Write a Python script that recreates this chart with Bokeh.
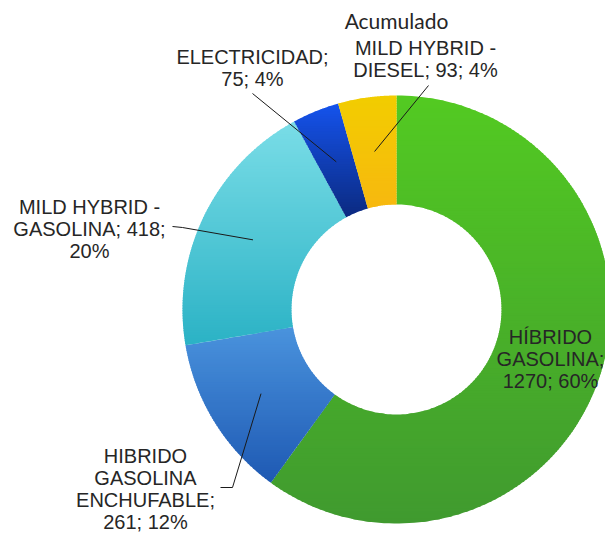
import numpy as np
from bokeh.plotting import figure
from bokeh.models import Range1d
from bokeh.core.properties import value
from bokeh.embed import file_html
from bokeh.resources import INLINE

# ---- data ----
categories = ["HÍBRIDO GASOLINA", "HIBRIDO GASOLINA ENCHUFABLE", "MILD HYBRID - GASOLINA",
              "ELECTRICIDAD", "MILD HYBRID - DIESEL"]
values = [1270, 261, 418, 75, 93]
label_texts = ["HÍBRIDO\nGASOLINA;\n1270; 60%",
               "HIBRIDO\nGASOLINA\nENCHUFABLE;\n261; 12%",
               "MILD HYBRID -\nGASOLINA; 418;\n20%",
               "ELECTRICIDAD;\n75; 4%",
               "MILD HYBRID -\nDIESEL; 93; 4%"]
title_text = "Acumulado"

# ---- style / layout ----
top_colors = ["#53ca22", "#4a93dd", "#7adde7", "#1553ec", "#f2cd00"]
bot_colors = ["#409a2f", "#1e59b3", "#2bb2c5", "#0b2a80", "#f7b80f"]
label_pos = [(550, 358), (145, 488), (89, 228), (252, 67), (425, 58)]
leader_bend = [None, (220, 487), (172, 226), None, None]
leader_elbow = [None, (232, 487), (182, 227), None, None]
leader_start = [None, None, None, (252, 93), (428, 85)]
show_leader = [False, True, True, True, True]

CX, CY, R_OUT, R_IN = 396.0, 309.0, 214.0, 105.0
W, H = 605, 535

p = figure(width=W, height=H, output_backend="svg", toolbar_location=None,
           x_range=Range1d(0, W), y_range=Range1d(H, 0),
           min_border=0)
p.axis.visible = False
p.grid.visible = False
p.outline_line_color = None
p.background_fill_color = "white"
p.border_fill_color = "white"


def hex2rgb(h):
    h = h.lstrip("#")
    return np.array([int(h[i:i + 2], 16) for i in (0, 2, 4)], dtype=float)


def rgb2hex(c):
    c = np.clip(np.round(c), 0, 255).astype(int)
    return "#%02x%02x%02x" % tuple(c)


def clip_poly(pts, yv, keep_above):
    out = []
    n = len(pts)
    for i in range(n):
        a = pts[i]
        b = pts[(i + 1) % n]
        ina = a[1] >= yv if keep_above else a[1] <= yv
        inb = b[1] >= yv if keep_above else b[1] <= yv
        if ina:
            out.append(a)
        if ina != inb:
            t = (yv - a[1]) / (b[1] - a[1])
            out.append((a[0] + t * (b[0] - a[0]), yv))
    return out


total = float(sum(values))
fracs = np.cumsum([0] + values) / total
xs_all, ys_all, cols_all = [], [], []
anchors = []
for i, v in enumerate(values):
    a0 = 2 * np.pi * fracs[i]
    a1 = 2 * np.pi * fracs[i + 1]
    th = np.linspace(a0, a1, 160)
    ox = CX + R_OUT * np.sin(th)
    oy = CY - R_OUT * np.cos(th)
    ix = CX + R_IN * np.sin(th[::-1])
    iy = CY - R_IN * np.cos(th[::-1])
    poly = list(zip(np.concatenate([ox, ix]), np.concatenate([oy, iy])))
    ymin = min(pt[1] for pt in poly)
    ymax = max(pt[1] for pt in poly)
    nb = int(max(20, (ymax - ymin) / 2.5))
    edges = np.linspace(ymin, ymax, nb + 1)
    ct, cb = hex2rgb(top_colors[i]), hex2rgb(bot_colors[i])
    for k in range(nb):
        sub = clip_poly(poly, edges[k], True)
        if len(sub) < 3:
            continue
        sub = clip_poly(sub, edges[k + 1] + 1.0, False)
        if len(sub) < 3:
            continue
        t = (k + 0.5) / nb
        xs_all.append([pt[0] for pt in sub])
        ys_all.append([pt[1] for pt in sub])
        cols_all.append(rgb2hex(ct + (cb - ct) * t))
    am = (a0 + a1) / 2
    rm = (R_OUT + R_IN) / 2
    anchors.append((CX + rm * np.sin(am), CY - rm * np.cos(am)))

p.patches(xs_all, ys_all, fill_color=cols_all, line_color=None)

# leader lines
for i in range(len(values)):
    if not show_leader[i]:
        continue
    ax, ay = anchors[i]
    if leader_bend[i] is not None:
        lx = [leader_bend[i][0], leader_elbow[i][0], ax]
        ly = [leader_bend[i][1], leader_elbow[i][1], ay]
    else:
        lx = [leader_start[i][0], ax]
        ly = [leader_start[i][1], ay]
    p.line(lx, ly, line_color="#1a1a1a", line_width=1)

# labels
p.text(x=[lp[0] for lp in label_pos], y=[lp[1] for lp in label_pos], text=label_texts,
       text_align="center", text_baseline="middle",
       text_font=value("Liberation Sans"), text_font_size="20px",
       text_color="#262626", text_line_height=1.0)

p.text(x=[396], y=[20], text=[title_text], text_align="center", text_baseline="middle",
       text_font=value("Lato"), text_font_size="21px", text_color="#262626")

open("out.html", "w").write(file_html(p, INLINE))
